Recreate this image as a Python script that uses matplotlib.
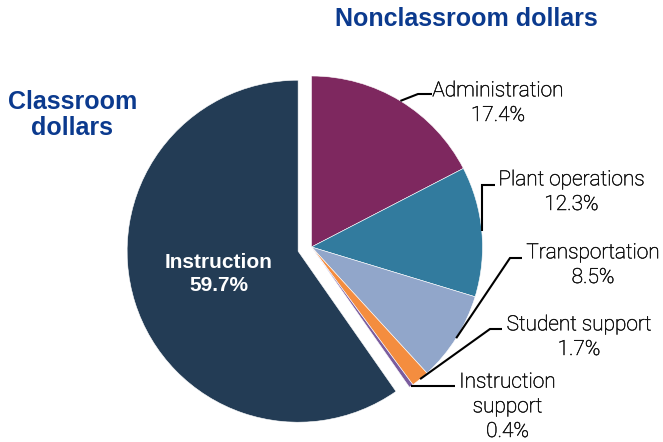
import numpy as np
import matplotlib
matplotlib.use("Agg")
import matplotlib.pyplot as plt
import matplotlib.patheffects as pe

# ---- data ----
categories = ["Administration", "Plant operations", "Transportation",
              "Student support", "Instruction support", "Instruction"]
shares = [17.4, 12.3, 8.5, 1.7, 0.4, 59.7]
colors = ["#7E285F", "#327B9E", "#91A6CA", "#F48D3F", "#7A5C9E", "#233C55"]
label_names = ["Administration", "Plant operations", "Transportation",
               "Student support", "Instruction\nsupport"]

W, H = 663, 442
CX, CY, R = 311.5, 247.0, 171.0

def px(x, y):
    return ((x - CX) / R, (CY - y) / R)

fig = plt.figure(figsize=(W / 100, H / 100), dpi=100)
ax = fig.add_axes([0, 0, 1, 1])
explode = [0, 0, 0, 0, 0, 0.082]
wedges, _ = ax.pie(shares, colors=colors, startangle=90, counterclock=False,
                   explode=explode, radius=1.0,
                   wedgeprops=dict(edgecolor="white", linewidth=0.4))
ax.set_xlim(-CX / R, (W - CX) / R)
ax.set_ylim((CY - H) / R, CY / R)
ax.set_aspect("auto")
ax.axis("off")

label_font = dict(family=["Roboto", "DejaVu Sans"], fontweight="light",
                  fontsize=15, color="#111111",
                  path_effects=[pe.withStroke(linewidth=0.35, foreground="#111111")])
# elbow and end of leader lines, text anchor (last-line baseline, pixel layout)
elbows = [(418, 94), (482, 185), (510, 258), (490, 329), (None, 388)]
ends = [(432, 94), (495, 185), (522, 258), (502, 329), (455, 388)]
text_pos = [(498, 121), (571.5, 210), (593, 283), (579, 355), (507.5, 437)]

for i in range(5):
    w = wedges[i]
    mid = np.deg2rad((w.theta1 + w.theta2) / 2)
    sx, sy = np.cos(mid) * w.r, np.sin(mid) * w.r
    ex, ey = ends[i]
    if elbows[i][0] is None:
        xs = [sx, px(ex, 0)[0]]
        ys = [sy, sy]
    else:
        el = px(*elbows[i])
        en = px(ex, ey)
        if i == 1:
            el = (sx, el[1])
        xs = [sx, el[0], en[0]]
        ys = [sy, el[1], en[1]]
    ax.plot(xs, ys, color="black", lw=1.5, solid_capstyle="butt",
            solid_joinstyle="miter")
    tx, ty = px(*text_pos[i])
    ax.text(tx, ty, f"{label_names[i]}\n{shares[i]}%", ha="center",
            va="baseline", linespacing=1.38, **label_font)

# Instruction label inside slice
ix, iy = px(219, 291)
ax.text(ix, iy, f"{categories[5]}\n{shares[5]}%", ha="center", va="baseline",
        color="white", fontsize=15, fontweight="bold",
        family=["Liberation Sans", "DejaVu Sans"], linespacing=1.25)

title_font = dict(family=["Liberation Sans", "DejaVu Sans"], fontweight="bold",
                  fontsize=18, color="#0B3A8E")
tx, ty = px(466, 26)
ax.text(tx, ty, "Nonclassroom dollars", ha="center", va="baseline", **title_font)
tx, ty = px(72.5, 135)
ax.text(tx, ty, "Classroom\ndollars", ha="center", va="baseline",
        linespacing=1.12, **title_font)

fig.savefig("out.png", dpi=100)
